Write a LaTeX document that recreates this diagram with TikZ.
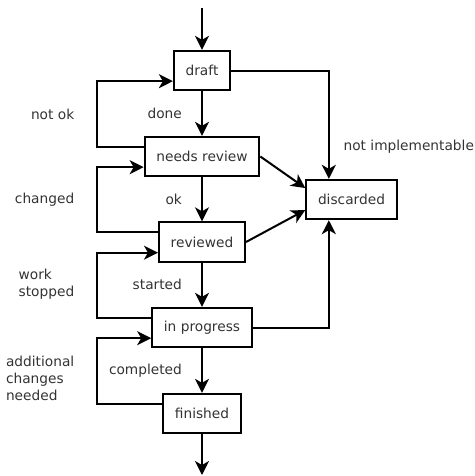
\documentclass[tikz,border=0pt]{standalone}
\usepackage{fontspec}
\setmainfont{DejaVu Sans}
\usetikzlibrary{arrows.meta}
\usetikzlibrary{calc}

\tikzset{
    state/.style={draw, line width=1.5pt, inner xsep=8.8pt, minimum height=29.5pt, text=black!80},
    label/.style={text=black!80, align=left},
    flow/.style={-{Stealth[length=10.5pt,width=10.5pt,inset=3pt]}, line width=1.5pt}
}

\begin{document}
\begin{tikzpicture}[x=0.75pt, y=-0.75pt, font=\fontsize{10.3}{12.75}\selectfont]
            \useasboundingbox (0,0) rectangle (475,476);
            \coordinate (start) at (202,8);
            \coordinate (end) at (202,475);
            \node[state] (draft) at (202,70.5) {draft};
            \node[state] (needs) at (202,156.5) {needs review};
            \node[state] (reviewed) at (202,242) {reviewed};
            \node[state] (progress) at (202,327.5) {in progress};
            \node[state] (finished) at (202,413.5) {finished};
            \node[state] (discarded) at (351.5,199.5) {discarded};
            % main line
            \draw[flow] (start) -- (draft);
            \draw[flow] (draft) -- node[label, left=11pt] {done} (needs);
            \draw[flow] (needs) -- node[label, left=11pt] {ok} (reviewed);
            \draw[flow] (reviewed) -- node[label, left=11pt] {started} (progress);
            \draw[flow] (progress) -- node[label, left=11pt] {completed} (finished);
            \draw[flow] (finished) -- (end);
            % going back
            \draw[flow] ([yshift=7.3pt]needs.west) -| (97,114) node[label, left=13pt] (notok) {not ok} |- ([yshift=-8pt]draft.west);
            \draw[flow] ([yshift=7.3pt]reviewed.west) -| (97,200) node[label, left=13pt] (changed) {changed} |- ([yshift=-8pt]needs.west);
            \draw[flow] ([yshift=7.3pt]progress.west) -| (97,284) node[label, left=13pt] (stopped) {work\\stopped} |- ([yshift=-8pt]reviewed.west);
            \draw[flow] ([yshift=7.3pt]finished.west) -| (97,378) node[label, left=13pt] (additional) {additional\\changes\\needed} |- ([yshift=-8pt]progress.west);
            % discarding
            \draw[flow] (draft.east) -| node[label, pos=0.85, right=7pt] (notimpl) {not implementable} ([xshift=-17pt]discarded.north);
            \draw[flow] (needs.east) -- ([yshift=8.6pt]discarded.west);
            \draw[flow] (reviewed.east) -- ([yshift=-7.9pt]discarded.west);
            \draw[flow] (progress.east) -| ([xshift=-17pt]discarded.south);
        \end{tikzpicture}
\end{document}
